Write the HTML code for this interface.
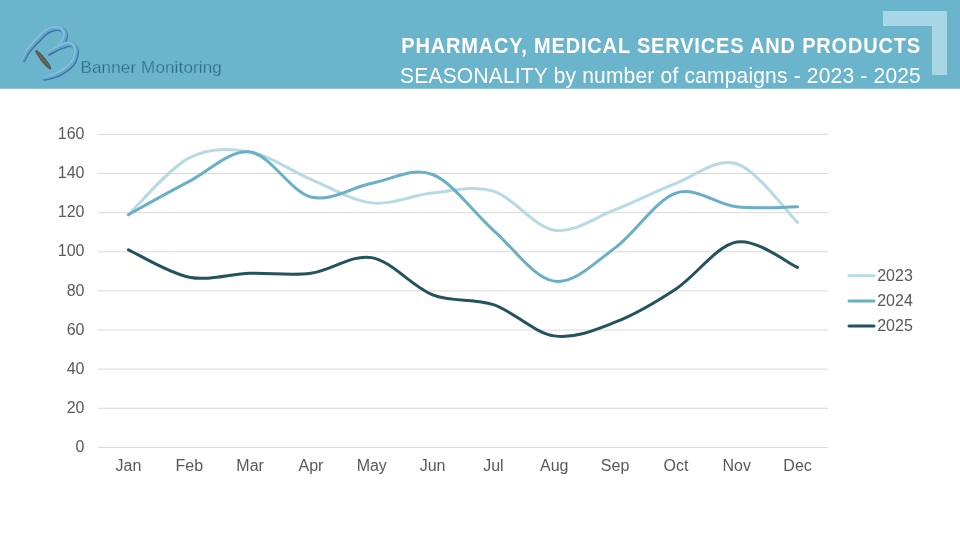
<!DOCTYPE html>
<html><head><meta charset="utf-8">
<style>
html,body{margin:0;padding:0;}
body{width:960px;height:540px;position:relative;overflow:hidden;background:#fff;font-family:"Liberation Sans",sans-serif;}
.hdr{position:absolute;left:0;top:0;width:960px;height:88px;background:#6ab4cc;}
.bracket1{position:absolute;left:883px;top:11px;width:64px;height:15px;background:#a9d6e4;}
.bracket2{position:absolute;left:932px;top:26px;width:15px;height:49px;background:#a9d6e4;}
</style></head><body>
<div class="hdr"></div><div style="position:absolute;left:0;top:88px;width:960px;height:1px;background:#8ec3d3"></div>
<div class="bracket1"></div><div class="bracket2"></div>
<svg width="960" height="540" viewBox="0 0 960 540" style="position:absolute;left:0;top:0;will-change:transform">
<style>.ax{font-family:"Liberation Sans",sans-serif;font-size:16px;fill:#595959;} .tt{font-family:"Liberation Sans",sans-serif;fill:#fff;}</style>
<text x="921" y="0" transform="translate(0 52.9) scale(1 1.07)" text-anchor="end" class="tt" style="font-weight:bold;font-size:20px;letter-spacing:0.83px">PHARMACY, MEDICAL SERVICES AND PRODUCTS</text>
<text x="921" y="0" transform="translate(0 82.9) scale(1 1.07)" text-anchor="end" class="tt" style="font-size:21px;letter-spacing:0.19px">SEASONALITY by number of campaigns - 2023 - 2025</text>
<text x="80.5" y="73" style="font-family:Liberation Sans,sans-serif;font-size:17px;letter-spacing:0.15px;fill:#2b6b89;stroke:#6ab4cc;stroke-width:0.3">Banner Monitoring</text>
<line x1="98" x2="828" y1="447.40" y2="447.40" stroke="#d9d9d9" stroke-width="1"/>
<text x="84.5" y="452.00" text-anchor="end" class="ax">0</text>
<line x1="98" x2="828" y1="408.27" y2="408.27" stroke="#d9d9d9" stroke-width="1"/>
<text x="84.5" y="412.88" text-anchor="end" class="ax">20</text>
<line x1="98" x2="828" y1="369.15" y2="369.15" stroke="#d9d9d9" stroke-width="1"/>
<text x="84.5" y="373.75" text-anchor="end" class="ax">40</text>
<line x1="98" x2="828" y1="330.02" y2="330.02" stroke="#d9d9d9" stroke-width="1"/>
<text x="84.5" y="334.62" text-anchor="end" class="ax">60</text>
<line x1="98" x2="828" y1="290.90" y2="290.90" stroke="#d9d9d9" stroke-width="1"/>
<text x="84.5" y="295.50" text-anchor="end" class="ax">80</text>
<line x1="98" x2="828" y1="251.77" y2="251.77" stroke="#d9d9d9" stroke-width="1"/>
<text x="84.5" y="256.38" text-anchor="end" class="ax">100</text>
<line x1="98" x2="828" y1="212.65" y2="212.65" stroke="#d9d9d9" stroke-width="1"/>
<text x="84.5" y="217.25" text-anchor="end" class="ax">120</text>
<line x1="98" x2="828" y1="173.52" y2="173.52" stroke="#d9d9d9" stroke-width="1"/>
<text x="84.5" y="178.12" text-anchor="end" class="ax">140</text>
<line x1="98" x2="828" y1="134.40" y2="134.40" stroke="#d9d9d9" stroke-width="1"/>
<text x="84.5" y="139.00" text-anchor="end" class="ax">160</text>
<text x="128.42" y="471" text-anchor="middle" class="ax">Jan</text>
<text x="189.25" y="471" text-anchor="middle" class="ax">Feb</text>
<text x="250.08" y="471" text-anchor="middle" class="ax">Mar</text>
<text x="310.92" y="471" text-anchor="middle" class="ax">Apr</text>
<text x="371.75" y="471" text-anchor="middle" class="ax">May</text>
<text x="432.58" y="471" text-anchor="middle" class="ax">Jun</text>
<text x="493.42" y="471" text-anchor="middle" class="ax">Jul</text>
<text x="554.25" y="471" text-anchor="middle" class="ax">Aug</text>
<text x="615.08" y="471" text-anchor="middle" class="ax">Sep</text>
<text x="675.92" y="471" text-anchor="middle" class="ax">Oct</text>
<text x="736.75" y="471" text-anchor="middle" class="ax">Nov</text>
<text x="797.58" y="471" text-anchor="middle" class="ax">Dec</text>
<path d="M128.42 214.61 C138.56 205.15 168.97 168.31 189.25 157.87 C209.53 147.44 229.81 148.42 250.08 152.01 C270.36 155.59 290.64 170.92 310.92 179.39 C331.19 187.87 351.47 200.59 371.75 202.87 C392.03 205.15 412.31 195.04 432.58 193.09 C452.86 191.13 473.14 184.94 493.42 191.13 C513.69 197.33 533.97 227.16 554.25 230.26 C574.53 233.35 594.81 217.54 615.08 209.72 C635.36 201.89 655.64 190.97 675.92 183.31 C696.19 175.64 716.47 157.22 736.75 163.74 C757.03 170.26 787.44 212.65 797.58 222.43" fill="none" stroke="#b8dae3" stroke-width="3" stroke-linecap="round" stroke-linejoin="round"/>
<path d="M128.42 214.61 C138.56 209.06 168.97 191.78 189.25 181.35 C209.53 170.92 229.81 149.40 250.08 152.01 C270.36 154.61 290.64 191.78 310.92 197.00 C331.19 202.22 351.47 187.06 371.75 183.31 C392.03 179.56 412.31 166.68 432.58 174.50 C452.86 182.33 473.14 212.49 493.42 230.26 C513.69 248.03 533.97 278.18 554.25 281.12 C574.53 284.05 594.81 262.53 615.08 247.86 C635.36 233.19 655.64 199.93 675.92 193.09 C696.19 186.24 716.47 204.50 736.75 206.78 C757.03 209.06 787.44 206.78 797.58 206.78" fill="none" stroke="#69afc6" stroke-width="3" stroke-linecap="round" stroke-linejoin="round"/>
<path d="M128.42 249.82 C138.56 254.38 168.97 273.29 189.25 277.21 C209.53 281.12 229.81 273.95 250.08 273.29 C270.36 272.64 290.64 275.90 310.92 273.29 C331.19 270.69 351.47 254.06 371.75 257.64 C392.03 261.23 412.31 286.99 432.58 294.81 C452.86 302.64 473.14 297.75 493.42 304.59 C513.69 311.44 533.97 332.96 554.25 335.89 C574.53 338.83 594.81 330.02 615.08 322.20 C635.36 314.38 655.64 302.31 675.92 288.94 C696.19 275.58 716.47 245.58 736.75 241.99 C757.03 238.41 787.44 263.19 797.58 267.42" fill="none" stroke="#24525e" stroke-width="3" stroke-linecap="round" stroke-linejoin="round"/>
<line x1="849" x2="874" y1="275.70" y2="275.70" stroke="#b8dae3" stroke-width="3" stroke-linecap="round"/>
<text x="877.2" y="280.80" class="ax">2023</text>
<line x1="849" x2="874" y1="300.90" y2="300.90" stroke="#69afc6" stroke-width="3" stroke-linecap="round"/>
<text x="877.2" y="306.00" class="ax">2024</text>
<line x1="849" x2="874" y1="326.10" y2="326.10" stroke="#24525e" stroke-width="3" stroke-linecap="round"/>
<text x="877.2" y="331.20" class="ax">2025</text>
<path d="M24.93 61.85 L25.15 61.44 L25.41 60.93 L25.72 60.33 L26.06 59.66 L26.43 58.94 L26.83 58.18 L27.24 57.40 L27.66 56.62 L28.09 55.85 L28.51 55.12 L28.92 54.45 L29.32 53.84 L29.71 53.28 L30.12 52.72 L30.53 52.18 L30.95 51.64 L31.38 51.11 L31.82 50.59 L32.26 50.07 L32.71 49.55 L33.17 49.03 L33.63 48.51 L34.10 47.99 L34.58 47.46 L35.05 46.94 L35.53 46.43 L36.01 45.92 L36.51 45.40 L37.01 44.89 L37.52 44.37 L38.04 43.85 L38.55 43.33 L39.07 42.81 L39.58 42.28 L40.10 41.76 L40.61 41.23 L41.12 40.69 L41.63 40.15 L42.13 39.61 L42.63 39.08 L43.12 38.56 L43.60 38.04 L44.08 37.55 L44.55 37.08 L45.02 36.63 L45.47 36.21 L45.92 35.82 L46.36 35.46 L46.80 35.11 L47.25 34.78 L47.70 34.47 L48.15 34.17 L48.60 33.89 L49.05 33.63 L49.49 33.38 L49.94 33.14 L50.39 32.92 L50.84 32.71 L51.29 32.50 L51.74 32.31 L52.20 32.14 L52.65 31.97 L53.09 31.82 L53.54 31.68 L53.98 31.55 L54.42 31.44 L54.85 31.34 L55.27 31.26 L55.68 31.19 L56.08 31.15 L56.47 31.11 L56.85 31.10 L57.25 31.10 L57.66 31.11 L58.07 31.14 L58.47 31.18 L58.87 31.23 L59.25 31.30 L59.62 31.38 L59.95 31.47 L60.26 31.58 L60.53 31.68 L60.76 31.79 L60.96 31.91 L61.14 32.04 L61.34 32.20 L61.54 32.38 L61.72 32.58 L61.91 32.79 L62.08 33.02 L62.23 33.27 L62.38 33.52 L62.50 33.77 L62.61 34.03 L62.69 34.29 L62.76 34.55 L62.81 34.82 L62.85 35.13 L62.87 35.47 L62.88 35.84 L62.86 36.23 L62.83 36.63 L62.78 37.05 L62.72 37.47 L62.63 37.90 L62.53 38.32 L62.42 38.74 L62.29 39.15 L62.14 39.56 L61.97 39.98 L61.78 40.42 L61.56 40.87 L61.32 41.33 L61.06 41.79 L60.78 42.26 L60.48 42.73 L60.17 43.19 L59.85 43.65 L59.52 44.11 L59.18 44.55 L58.84 44.98 L58.47 45.40 L58.08 45.83 L57.66 46.26 L57.22 46.70 L56.77 47.13 L56.30 47.57 L55.82 48.00 L55.33 48.43 L54.84 48.86 L54.35 49.28 L53.87 49.69 L53.38 50.11 L52.86 50.53 L52.30 50.97 L51.72 51.41 L51.14 51.84 L50.55 52.27 L49.99 52.68 L49.46 53.06 L48.96 53.41 L48.52 53.73 L48.14 54.01 L47.84 54.23 L48.76 55.77 L49.09 55.61 L49.51 55.42 L50.00 55.20 L50.55 54.94 L51.15 54.66 L51.80 54.36 L52.46 54.04 L53.14 53.71 L53.82 53.36 L54.48 53.01 L55.13 52.66 L55.73 52.31 L56.30 51.96 L56.87 51.62 L57.44 51.26 L58.02 50.89 L58.60 50.51 L59.17 50.12 L59.74 49.71 L60.31 49.29 L60.86 48.86 L61.40 48.40 L61.92 47.93 L62.42 47.45 L62.89 46.96 L63.34 46.46 L63.79 45.95 L64.21 45.42 L64.63 44.88 L65.02 44.33 L65.39 43.77 L65.75 43.20 L66.08 42.63 L66.38 42.04 L66.66 41.45 L66.91 40.85 L67.13 40.24 L67.32 39.63 L67.48 39.02 L67.62 38.39 L67.72 37.77 L67.80 37.14 L67.86 36.52 L67.88 35.89 L67.87 35.28 L67.83 34.66 L67.75 34.05 L67.64 33.45 L67.48 32.86 L67.29 32.29 L67.06 31.73 L66.80 31.19 L66.51 30.68 L66.19 30.18 L65.83 29.70 L65.45 29.25 L65.04 28.82 L64.61 28.41 L64.14 28.04 L63.64 27.69 L63.11 27.38 L62.55 27.11 L61.98 26.88 L61.40 26.69 L60.82 26.53 L60.23 26.40 L59.65 26.29 L59.06 26.21 L58.48 26.16 L57.90 26.12 L57.32 26.10 L56.75 26.10 L56.17 26.12 L55.58 26.17 L54.99 26.24 L54.41 26.33 L53.82 26.45 L53.25 26.58 L52.67 26.72 L52.10 26.89 L51.53 27.07 L50.97 27.26 L50.41 27.47 L49.86 27.69 L49.31 27.92 L48.76 28.16 L48.21 28.42 L47.66 28.70 L47.11 28.99 L46.55 29.30 L46.00 29.62 L45.45 29.97 L44.90 30.33 L44.35 30.71 L43.80 31.12 L43.24 31.54 L42.68 32.01 L42.13 32.49 L41.58 33.00 L41.05 33.52 L40.52 34.04 L40.00 34.58 L39.48 35.12 L38.97 35.66 L38.47 36.20 L37.97 36.73 L37.48 37.26 L36.99 37.77 L36.50 38.29 L35.99 38.81 L35.48 39.35 L34.97 39.89 L34.46 40.44 L33.95 41.01 L33.44 41.58 L32.94 42.15 L32.45 42.74 L31.96 43.33 L31.48 43.94 L31.02 44.54 L30.58 45.14 L30.15 45.73 L29.73 46.33 L29.31 46.93 L28.90 47.54 L28.50 48.16 L28.10 48.79 L27.71 49.43 L27.34 50.09 L26.97 50.76 L26.62 51.45 L26.28 52.16 L25.94 52.92 L25.62 53.73 L25.30 54.59 L25.00 55.46 L24.72 56.33 L24.45 57.20 L24.19 58.03 L23.96 58.82 L23.75 59.55 L23.56 60.19 L23.40 60.73 L23.27 61.15Z" fill="#3a739c"/>
<path d="M24.13 60.85 L24.34 60.44 L24.61 59.93 L24.91 59.33 L25.25 58.65 L25.62 57.93 L26.01 57.17 L26.41 56.39 L26.83 55.60 L27.25 54.84 L27.67 54.10 L28.08 53.43 L28.47 52.82 L28.87 52.25 L29.27 51.69 L29.68 51.14 L30.10 50.60 L30.52 50.07 L30.96 49.55 L31.40 49.03 L31.85 48.51 L32.30 47.98 L32.77 47.46 L33.24 46.93 L33.71 46.40 L34.18 45.88 L34.66 45.37 L35.14 44.86 L35.64 44.34 L36.14 43.82 L36.65 43.30 L37.17 42.78 L37.68 42.26 L38.20 41.74 L38.71 41.21 L39.22 40.69 L39.73 40.16 L40.24 39.62 L40.75 39.08 L41.25 38.54 L41.75 38.01 L42.24 37.49 L42.73 36.98 L43.21 36.48 L43.68 36.01 L44.15 35.56 L44.61 35.13 L45.05 34.74 L45.50 34.38 L45.94 34.03 L46.39 33.70 L46.85 33.39 L47.30 33.09 L47.75 32.81 L48.20 32.54 L48.65 32.29 L49.10 32.05 L49.55 31.83 L50.00 31.61 L50.45 31.41 L50.91 31.22 L51.36 31.04 L51.81 30.88 L52.26 30.72 L52.71 30.58 L53.15 30.45 L53.59 30.34 L54.03 30.24 L54.45 30.16 L54.87 30.10 L55.27 30.05 L55.66 30.01 L56.05 30.00 L56.45 30.00 L56.86 30.01 L57.27 30.04 L57.68 30.08 L58.09 30.13 L58.47 30.20 L58.84 30.29 L59.18 30.38 L59.50 30.48 L59.77 30.59 L60.01 30.71 L60.21 30.82 L60.40 30.96 L60.61 31.12 L60.81 31.31 L61.00 31.51 L61.18 31.73 L61.36 31.97 L61.52 32.21 L61.66 32.47 L61.79 32.73 L61.90 33.00 L61.99 33.26 L62.06 33.53 L62.11 33.81 L62.15 34.12 L62.17 34.47 L62.18 34.84 L62.16 35.23 L62.13 35.64 L62.08 36.06 L62.02 36.49 L61.93 36.92 L61.83 37.35 L61.71 37.77 L61.58 38.19 L61.43 38.60 L61.26 39.02 L61.06 39.46 L60.84 39.92 L60.60 40.38 L60.33 40.84 L60.05 41.31 L59.75 41.78 L59.44 42.24 L59.12 42.71 L58.78 43.16 L58.44 43.60 L58.09 44.03 L57.72 44.45 L57.32 44.88 L56.90 45.32 L56.46 45.75 L56.01 46.18 L55.53 46.61 L55.05 47.04 L54.57 47.47 L54.07 47.90 L53.58 48.32 L53.10 48.73 L52.61 49.14 L52.08 49.56 L51.52 49.99 L50.94 50.43 L50.35 50.86 L49.76 51.28 L49.20 51.69 L48.66 52.07 L48.17 52.42 L47.72 52.74 L47.34 53.01 L47.04 53.23 L47.96 54.77 L48.29 54.61 L48.70 54.42 L49.19 54.19 L49.75 53.93 L50.35 53.65 L50.99 53.34 L51.65 53.02 L52.32 52.68 L53.00 52.33 L53.66 51.98 L54.30 51.62 L54.90 51.27 L55.47 50.92 L56.04 50.58 L56.61 50.22 L57.18 49.85 L57.76 49.46 L58.33 49.07 L58.90 48.66 L59.46 48.24 L60.01 47.80 L60.54 47.35 L61.06 46.88 L61.56 46.40 L62.03 45.91 L62.48 45.41 L62.92 44.90 L63.34 44.37 L63.75 43.83 L64.14 43.28 L64.51 42.72 L64.86 42.16 L65.19 41.58 L65.49 41.00 L65.77 40.41 L66.02 39.81 L66.23 39.22 L66.42 38.61 L66.58 37.99 L66.72 37.38 L66.83 36.75 L66.91 36.13 L66.96 35.51 L66.98 34.89 L66.97 34.28 L66.93 33.67 L66.85 33.07 L66.74 32.47 L66.59 31.89 L66.40 31.32 L66.17 30.77 L65.91 30.24 L65.62 29.73 L65.30 29.23 L64.96 28.76 L64.58 28.31 L64.17 27.89 L63.74 27.49 L63.28 27.12 L62.79 26.78 L62.26 26.47 L61.71 26.20 L61.14 25.97 L60.57 25.78 L60.00 25.63 L59.41 25.50 L58.83 25.39 L58.25 25.31 L57.67 25.25 L57.09 25.22 L56.52 25.20 L55.95 25.20 L55.37 25.22 L54.79 25.27 L54.21 25.34 L53.62 25.43 L53.05 25.54 L52.47 25.67 L51.90 25.82 L51.33 25.98 L50.76 26.16 L50.20 26.35 L49.64 26.56 L49.09 26.78 L48.55 27.01 L48.00 27.25 L47.45 27.51 L46.90 27.78 L46.35 28.07 L45.80 28.38 L45.25 28.71 L44.70 29.05 L44.15 29.41 L43.61 29.79 L43.06 30.20 L42.50 30.62 L41.95 31.08 L41.39 31.57 L40.85 32.07 L40.32 32.59 L39.79 33.11 L39.27 33.65 L38.76 34.19 L38.25 34.73 L37.75 35.27 L37.25 35.80 L36.76 36.33 L36.27 36.84 L35.77 37.36 L35.27 37.88 L34.76 38.42 L34.25 38.96 L33.73 39.51 L33.22 40.07 L32.71 40.64 L32.21 41.22 L31.72 41.80 L31.23 42.39 L30.75 42.99 L30.29 43.60 L29.85 44.19 L29.42 44.78 L28.99 45.38 L28.57 45.98 L28.16 46.58 L27.75 47.20 L27.36 47.83 L26.97 48.47 L26.59 49.12 L26.22 49.79 L25.87 50.47 L25.53 51.18 L25.19 51.94 L24.86 52.75 L24.54 53.60 L24.24 54.47 L23.94 55.35 L23.67 56.21 L23.41 57.04 L23.17 57.83 L22.96 58.55 L22.77 59.19 L22.61 59.73 L22.47 60.15Z" fill="#62a5cd"/>
<path d="M22.88 59.82 L23.07 59.41 L23.31 58.89 L23.59 58.28 L23.90 57.59 L24.23 56.85 L24.59 56.08 L24.97 55.27 L25.36 54.47 L25.76 53.67 L26.15 52.91 L26.55 52.20 L26.93 51.55 L27.31 50.94 L27.71 50.35 L28.11 49.77 L28.52 49.20 L28.94 48.65 L29.37 48.09 L29.80 47.55 L30.24 47.01 L30.69 46.46 L31.15 45.92 L31.61 45.38 L32.07 44.83 L32.54 44.29 L33.02 43.76 L33.51 43.22 L34.01 42.69 L34.51 42.16 L35.02 41.63 L35.53 41.10 L36.05 40.57 L36.56 40.04 L37.08 39.51 L37.59 38.99 L38.09 38.46 L38.60 37.93 L39.10 37.39 L39.60 36.86 L40.10 36.32 L40.60 35.79 L41.09 35.27 L41.58 34.77 L42.07 34.28 L42.56 33.81 L43.04 33.37 L43.51 32.95 L43.99 32.56 L44.46 32.19 L44.94 31.84 L45.42 31.51 L45.89 31.20 L46.37 30.90 L46.85 30.62 L47.33 30.35 L47.80 30.10 L48.28 29.86 L48.76 29.63 L49.24 29.42 L49.72 29.22 L50.19 29.03 L50.68 28.85 L51.16 28.69 L51.64 28.53 L52.11 28.40 L52.59 28.28 L53.06 28.17 L53.53 28.08 L53.99 28.01 L54.44 27.95 L54.88 27.92 L55.32 27.90 L55.77 27.90 L56.22 27.91 L56.68 27.94 L57.14 27.99 L57.59 28.05 L58.03 28.13 L58.45 28.22 L58.86 28.33 L59.24 28.46 L59.60 28.60 L59.92 28.76 L60.21 28.93 L60.48 29.12 L60.76 29.34 L61.02 29.58 L61.27 29.84 L61.51 30.13 L61.73 30.43 L61.93 30.74 L62.11 31.07 L62.28 31.40 L62.42 31.75 L62.54 32.09 L62.63 32.44 L62.70 32.81 L62.74 33.20 L62.77 33.62 L62.78 34.05 L62.76 34.51 L62.72 34.98 L62.67 35.45 L62.59 35.93 L62.49 36.41 L62.37 36.89 L62.24 37.36 L62.09 37.83 L61.91 38.29 L61.71 38.76 L61.49 39.24 L61.24 39.73 L60.96 40.22 L60.67 40.71 L60.36 41.20 L60.04 41.69 L59.70 42.17 L59.34 42.65 L58.98 43.12 L58.60 43.57 L58.22 44.02 L57.81 44.46 L57.37 44.90 L56.92 45.33 L56.45 45.77 L55.96 46.19 L55.46 46.62 L54.96 47.04 L54.45 47.46 L53.94 47.87 L53.43 48.27 L52.92 48.67 L52.40 49.07 L51.85 49.48 L51.26 49.89 L50.65 50.31 L50.04 50.72 L49.44 51.12 L48.86 51.50 L48.31 51.86 L47.80 52.19 L47.34 52.48 L46.95 52.74 L46.65 52.94 L46.95 53.46 L47.28 53.28 L47.68 53.07 L48.16 52.82 L48.70 52.54 L49.29 52.23 L49.91 51.91 L50.55 51.56 L51.21 51.20 L51.86 50.84 L52.49 50.47 L53.11 50.10 L53.68 49.73 L54.22 49.37 L54.77 49.01 L55.32 48.63 L55.88 48.25 L56.43 47.86 L56.98 47.46 L57.52 47.04 L58.04 46.62 L58.56 46.19 L59.06 45.75 L59.54 45.29 L60.00 44.83 L60.43 44.35 L60.85 43.87 L61.26 43.37 L61.66 42.86 L62.04 42.34 L62.40 41.82 L62.75 41.28 L63.07 40.75 L63.37 40.21 L63.64 39.66 L63.89 39.12 L64.11 38.57 L64.31 38.02 L64.48 37.47 L64.62 36.90 L64.74 36.34 L64.84 35.77 L64.91 35.20 L64.96 34.64 L64.98 34.08 L64.97 33.53 L64.93 32.99 L64.87 32.47 L64.77 31.96 L64.64 31.46 L64.48 30.98 L64.29 30.50 L64.06 30.04 L63.81 29.60 L63.54 29.17 L63.23 28.77 L62.91 28.38 L62.56 28.01 L62.19 27.67 L61.80 27.36 L61.39 27.07 L60.95 26.82 L60.48 26.59 L60.00 26.39 L59.50 26.23 L58.98 26.09 L58.46 25.97 L57.93 25.88 L57.40 25.80 L56.86 25.75 L56.33 25.72 L55.80 25.70 L55.28 25.70 L54.75 25.72 L54.22 25.76 L53.68 25.83 L53.15 25.91 L52.61 26.02 L52.07 26.14 L51.54 26.27 L51.00 26.43 L50.47 26.60 L49.94 26.78 L49.41 26.97 L48.88 27.18 L48.36 27.40 L47.84 27.63 L47.32 27.88 L46.80 28.14 L46.27 28.42 L45.75 28.71 L45.23 29.02 L44.71 29.34 L44.18 29.69 L43.66 30.05 L43.14 30.44 L42.61 30.84 L42.09 31.27 L41.56 31.73 L41.04 32.21 L40.53 32.71 L40.02 33.23 L39.51 33.75 L39.00 34.28 L38.50 34.82 L38.00 35.36 L37.50 35.89 L37.00 36.42 L36.51 36.94 L36.01 37.46 L35.50 37.99 L34.99 38.52 L34.48 39.06 L33.96 39.60 L33.45 40.15 L32.95 40.71 L32.44 41.27 L31.95 41.83 L31.46 42.41 L30.99 42.98 L30.53 43.57 L30.08 44.14 L29.64 44.72 L29.21 45.30 L28.78 45.88 L28.36 46.46 L27.95 47.06 L27.54 47.66 L27.15 48.27 L26.76 48.89 L26.39 49.53 L26.02 50.18 L25.67 50.85 L25.32 51.57 L24.98 52.35 L24.64 53.16 L24.31 54.01 L23.99 54.86 L23.68 55.70 L23.39 56.52 L23.13 57.29 L22.88 58.00 L22.66 58.63 L22.48 59.16 L22.32 59.58Z" fill="#8ec4e0" opacity="0.8"/>
<path d="M48.80 55.75 L49.20 55.54 L49.70 55.28 L50.29 54.97 L50.94 54.63 L51.65 54.25 L52.39 53.86 L53.16 53.46 L53.94 53.06 L54.70 52.67 L55.44 52.30 L56.14 51.96 L56.78 51.65 L57.39 51.37 L58.00 51.10 L58.61 50.83 L59.21 50.57 L59.81 50.32 L60.40 50.07 L60.98 49.83 L61.55 49.60 L62.11 49.38 L62.67 49.16 L63.21 48.95 L63.74 48.75 L64.28 48.54 L64.81 48.34 L65.33 48.14 L65.82 47.95 L66.29 47.78 L66.74 47.62 L67.18 47.47 L67.58 47.35 L67.97 47.25 L68.32 47.18 L68.65 47.12 L68.97 47.09 L69.31 47.08 L69.67 47.08 L70.01 47.09 L70.35 47.12 L70.67 47.17 L70.98 47.23 L71.26 47.30 L71.52 47.38 L71.75 47.47 L71.95 47.57 L72.12 47.67 L72.26 47.77 L72.40 47.89 L72.55 48.05 L72.72 48.24 L72.88 48.46 L73.04 48.71 L73.19 48.98 L73.34 49.28 L73.47 49.59 L73.59 49.91 L73.69 50.24 L73.77 50.57 L73.83 50.89 L73.87 51.21 L73.89 51.57 L73.90 51.97 L73.89 52.40 L73.85 52.85 L73.80 53.33 L73.73 53.82 L73.65 54.32 L73.55 54.83 L73.44 55.34 L73.32 55.85 L73.18 56.36 L73.04 56.88 L72.90 57.40 L72.75 57.91 L72.60 58.40 L72.44 58.87 L72.27 59.34 L72.08 59.79 L71.87 60.24 L71.65 60.68 L71.40 61.12 L71.12 61.56 L70.80 62.00 L70.43 62.47 L70.03 62.95 L69.58 63.44 L69.11 63.94 L68.60 64.45 L68.06 64.96 L67.49 65.47 L66.90 65.97 L66.28 66.48 L65.65 66.99 L65.00 67.48 L64.33 67.98 L63.65 68.47 L62.94 68.96 L62.21 69.46 L61.47 69.96 L60.70 70.47 L59.92 70.97 L59.13 71.47 L58.32 71.96 L57.50 72.46 L56.66 72.94 L55.81 73.42 L54.96 73.88 L54.05 74.35 L53.04 74.83 L51.95 75.33 L50.81 75.84 L49.64 76.35 L48.48 76.84 L47.34 77.32 L46.27 77.77 L45.27 78.19 L44.38 78.56 L43.62 78.88 L43.02 79.14 L43.58 80.86 L44.20 80.72 L45.00 80.56 L45.94 80.38 L47.00 80.17 L48.15 79.94 L49.37 79.68 L50.63 79.40 L51.90 79.11 L53.17 78.79 L54.39 78.45 L55.56 78.09 L56.64 77.72 L57.65 77.33 L58.63 76.93 L59.59 76.50 L60.54 76.06 L61.46 75.60 L62.36 75.12 L63.24 74.63 L64.10 74.12 L64.93 73.61 L65.73 73.09 L66.51 72.56 L67.27 72.02 L68.00 71.48 L68.73 70.93 L69.43 70.37 L70.12 69.80 L70.79 69.22 L71.44 68.63 L72.07 68.04 L72.67 67.44 L73.25 66.84 L73.79 66.24 L74.31 65.62 L74.80 65.00 L75.26 64.36 L75.67 63.71 L76.04 63.07 L76.37 62.43 L76.66 61.79 L76.92 61.16 L77.15 60.54 L77.36 59.94 L77.54 59.34 L77.71 58.77 L77.86 58.20 L78.02 57.64 L78.17 57.06 L78.31 56.45 L78.45 55.84 L78.57 55.21 L78.67 54.58 L78.76 53.95 L78.83 53.31 L78.88 52.67 L78.90 52.03 L78.89 51.38 L78.85 50.74 L78.77 50.11 L78.65 49.50 L78.51 48.91 L78.33 48.32 L78.12 47.75 L77.88 47.20 L77.62 46.65 L77.32 46.13 L76.99 45.62 L76.64 45.14 L76.24 44.67 L75.81 44.24 L75.34 43.83 L74.83 43.47 L74.30 43.16 L73.75 42.89 L73.19 42.67 L72.63 42.49 L72.06 42.35 L71.49 42.24 L70.92 42.16 L70.34 42.11 L69.77 42.08 L69.21 42.08 L68.63 42.11 L68.02 42.16 L67.41 42.26 L66.82 42.39 L66.24 42.54 L65.67 42.71 L65.11 42.89 L64.55 43.10 L64.00 43.31 L63.46 43.54 L62.93 43.77 L62.39 44.01 L61.86 44.25 L61.30 44.51 L60.73 44.79 L60.15 45.08 L59.57 45.38 L58.98 45.71 L58.39 46.04 L57.80 46.39 L57.20 46.75 L56.61 47.13 L56.01 47.52 L55.42 47.93 L54.82 48.35 L54.20 48.81 L53.54 49.31 L52.87 49.86 L52.18 50.42 L51.50 51.00 L50.83 51.57 L50.19 52.14 L49.59 52.67 L49.03 53.16 L48.54 53.60 L48.13 53.97 L47.80 54.25Z" fill="#3a739c"/>
<path d="M48.00 54.75 L48.40 54.54 L48.90 54.27 L49.48 53.96 L50.13 53.61 L50.83 53.23 L51.58 52.84 L52.34 52.43 L53.11 52.02 L53.88 51.63 L54.61 51.25 L55.31 50.90 L55.94 50.60 L56.55 50.32 L57.17 50.04 L57.77 49.77 L58.37 49.50 L58.97 49.25 L59.56 49.00 L60.14 48.75 L60.71 48.52 L61.27 48.29 L61.83 48.07 L62.37 47.86 L62.91 47.66 L63.44 47.45 L63.98 47.25 L64.49 47.05 L64.98 46.86 L65.46 46.68 L65.91 46.52 L66.35 46.38 L66.76 46.26 L67.14 46.16 L67.51 46.08 L67.84 46.03 L68.17 45.99 L68.51 45.98 L68.87 45.98 L69.22 45.99 L69.56 46.03 L69.89 46.07 L70.20 46.13 L70.49 46.20 L70.75 46.29 L70.99 46.38 L71.19 46.48 L71.37 46.58 L71.52 46.69 L71.67 46.82 L71.83 46.98 L71.99 47.18 L72.16 47.40 L72.33 47.66 L72.48 47.94 L72.63 48.24 L72.76 48.55 L72.88 48.88 L72.98 49.21 L73.07 49.55 L73.13 49.87 L73.17 50.21 L73.19 50.57 L73.20 50.97 L73.18 51.41 L73.15 51.86 L73.10 52.34 L73.03 52.84 L72.95 53.34 L72.85 53.85 L72.74 54.36 L72.61 54.87 L72.48 55.39 L72.34 55.91 L72.19 56.43 L72.05 56.93 L71.89 57.43 L71.73 57.91 L71.56 58.38 L71.37 58.83 L71.16 59.28 L70.94 59.73 L70.68 60.17 L70.40 60.61 L70.08 61.06 L69.71 61.53 L69.30 62.01 L68.86 62.51 L68.38 63.01 L67.86 63.52 L67.32 64.03 L66.76 64.54 L66.16 65.05 L65.55 65.56 L64.91 66.06 L64.26 66.56 L63.59 67.06 L62.90 67.55 L62.19 68.05 L61.46 68.55 L60.72 69.05 L59.95 69.55 L59.17 70.05 L58.38 70.55 L57.56 71.04 L56.74 71.53 L55.90 72.01 L55.05 72.49 L54.19 72.95 L53.28 73.41 L52.26 73.89 L51.17 74.39 L50.02 74.89 L48.85 75.39 L47.69 75.88 L46.55 76.35 L45.47 76.79 L44.48 77.20 L43.58 77.57 L42.82 77.89 L42.22 78.14 L42.78 79.86 L43.40 79.72 L44.19 79.56 L45.13 79.36 L46.19 79.15 L47.34 78.91 L48.56 78.65 L49.82 78.36 L51.09 78.06 L52.35 77.73 L53.57 77.39 L54.74 77.03 L55.81 76.65 L56.82 76.26 L57.79 75.85 L58.75 75.43 L59.69 74.98 L60.62 74.52 L61.51 74.04 L62.39 73.55 L63.25 73.04 L64.07 72.53 L64.88 72.01 L65.66 71.48 L66.41 70.94 L67.14 70.40 L67.86 69.85 L68.57 69.29 L69.26 68.72 L69.93 68.14 L70.58 67.56 L71.20 66.97 L71.80 66.37 L72.37 65.77 L72.92 65.17 L73.43 64.56 L73.92 63.94 L74.37 63.30 L74.79 62.66 L75.15 62.02 L75.48 61.38 L75.77 60.75 L76.03 60.12 L76.26 59.51 L76.46 58.91 L76.64 58.32 L76.81 57.74 L76.97 57.18 L77.12 56.61 L77.27 56.03 L77.42 55.43 L77.55 54.82 L77.67 54.19 L77.77 53.57 L77.86 52.93 L77.93 52.30 L77.98 51.66 L78.00 51.02 L77.99 50.39 L77.95 49.75 L77.87 49.13 L77.76 48.52 L77.61 47.93 L77.43 47.36 L77.23 46.79 L76.99 46.24 L76.73 45.70 L76.44 45.18 L76.11 44.68 L75.76 44.20 L75.37 43.74 L74.95 43.31 L74.48 42.91 L73.98 42.55 L73.45 42.24 L72.91 41.98 L72.36 41.76 L71.80 41.59 L71.24 41.44 L70.67 41.34 L70.11 41.26 L69.54 41.21 L68.97 41.18 L68.41 41.18 L67.83 41.21 L67.23 41.26 L66.63 41.36 L66.04 41.48 L65.47 41.63 L64.90 41.80 L64.34 41.99 L63.79 42.19 L63.24 42.41 L62.70 42.63 L62.16 42.86 L61.63 43.10 L61.09 43.34 L60.54 43.60 L59.97 43.87 L59.39 44.16 L58.81 44.47 L58.22 44.78 L57.63 45.12 L57.04 45.46 L56.44 45.82 L55.84 46.20 L55.25 46.59 L54.65 46.99 L54.06 47.40 L53.43 47.86 L52.77 48.36 L52.09 48.90 L51.40 49.46 L50.72 50.03 L50.05 50.60 L49.40 51.16 L48.80 51.68 L48.24 52.17 L47.75 52.60 L47.33 52.97 L47.00 53.25Z" fill="#62a5cd"/>
<path d="M46.97 53.45 L47.35 53.22 L47.83 52.94 L48.39 52.60 L49.02 52.21 L49.70 51.80 L50.42 51.37 L51.16 50.92 L51.92 50.48 L52.66 50.04 L53.39 49.62 L54.07 49.24 L54.71 48.90 L55.32 48.58 L55.93 48.27 L56.54 47.98 L57.14 47.68 L57.74 47.40 L58.33 47.13 L58.91 46.87 L59.49 46.61 L60.06 46.37 L60.62 46.13 L61.17 45.90 L61.71 45.69 L62.25 45.47 L62.78 45.26 L63.30 45.05 L63.81 44.85 L64.30 44.67 L64.79 44.50 L65.25 44.34 L65.71 44.20 L66.15 44.09 L66.57 44.00 L66.98 43.94 L67.38 43.90 L67.78 43.88 L68.20 43.88 L68.61 43.90 L69.01 43.93 L69.40 43.99 L69.78 44.06 L70.14 44.15 L70.49 44.26 L70.81 44.39 L71.11 44.53 L71.38 44.69 L71.62 44.87 L71.85 45.07 L72.09 45.30 L72.31 45.57 L72.53 45.87 L72.74 46.19 L72.93 46.53 L73.11 46.89 L73.27 47.27 L73.42 47.66 L73.54 48.06 L73.64 48.47 L73.71 48.87 L73.77 49.28 L73.79 49.72 L73.80 50.19 L73.78 50.67 L73.75 51.18 L73.69 51.70 L73.62 52.23 L73.52 52.77 L73.42 53.31 L73.30 53.85 L73.17 54.39 L73.04 54.92 L72.89 55.45 L72.75 55.98 L72.59 56.51 L72.43 57.03 L72.26 57.54 L72.07 58.05 L71.86 58.55 L71.63 59.05 L71.38 59.55 L71.09 60.05 L70.78 60.54 L70.42 61.04 L70.02 61.55 L69.58 62.07 L69.11 62.59 L68.60 63.12 L68.07 63.65 L67.50 64.18 L66.91 64.72 L66.30 65.24 L65.67 65.77 L65.01 66.29 L64.34 66.80 L63.65 67.31 L62.95 67.81 L62.22 68.32 L61.47 68.83 L60.70 69.33 L59.92 69.84 L59.11 70.34 L58.29 70.83 L57.45 71.32 L56.59 71.80 L55.72 72.27 L54.84 72.73 L53.94 73.18 L52.98 73.62 L51.93 74.08 L50.80 74.54 L49.63 75.00 L48.43 75.45 L47.25 75.90 L46.09 76.32 L44.99 76.71 L43.98 77.08 L43.08 77.40 L42.31 77.68 L41.71 77.91 L41.89 78.49 L42.51 78.32 L43.30 78.12 L44.23 77.89 L45.27 77.63 L46.41 77.34 L47.60 77.03 L48.84 76.70 L50.08 76.35 L51.31 75.98 L52.50 75.60 L53.63 75.22 L54.66 74.82 L55.63 74.42 L56.57 74.00 L57.50 73.56 L58.41 73.10 L59.30 72.63 L60.18 72.15 L61.03 71.66 L61.86 71.16 L62.67 70.65 L63.45 70.13 L64.21 69.61 L64.95 69.09 L65.66 68.56 L66.37 68.02 L67.05 67.48 L67.72 66.93 L68.37 66.37 L69.00 65.80 L69.60 65.23 L70.17 64.66 L70.72 64.09 L71.24 63.51 L71.73 62.94 L72.18 62.36 L72.60 61.78 L72.97 61.19 L73.31 60.60 L73.61 60.01 L73.88 59.43 L74.12 58.85 L74.33 58.28 L74.52 57.71 L74.70 57.14 L74.86 56.58 L75.01 56.03 L75.16 55.48 L75.31 54.92 L75.45 54.34 L75.58 53.75 L75.69 53.16 L75.79 52.57 L75.87 51.97 L75.94 51.38 L75.98 50.79 L76.00 50.21 L75.99 49.64 L75.96 49.07 L75.89 48.53 L75.79 48.00 L75.66 47.48 L75.50 46.97 L75.32 46.47 L75.11 45.98 L74.88 45.51 L74.62 45.05 L74.34 44.62 L74.04 44.20 L73.71 43.82 L73.36 43.46 L72.98 43.13 L72.57 42.84 L72.14 42.59 L71.69 42.37 L71.22 42.19 L70.75 42.04 L70.26 41.91 L69.76 41.82 L69.26 41.75 L68.75 41.70 L68.24 41.68 L67.74 41.68 L67.22 41.70 L66.70 41.75 L66.17 41.84 L65.64 41.95 L65.12 42.08 L64.59 42.24 L64.06 42.42 L63.54 42.61 L63.01 42.81 L62.48 43.03 L61.96 43.25 L61.42 43.48 L60.89 43.71 L60.34 43.96 L59.77 44.22 L59.20 44.49 L58.63 44.77 L58.05 45.07 L57.46 45.38 L56.87 45.71 L56.28 46.04 L55.68 46.39 L55.08 46.75 L54.49 47.12 L53.89 47.50 L53.26 47.92 L52.60 48.39 L51.91 48.88 L51.20 49.41 L50.50 49.94 L49.81 50.47 L49.14 50.99 L48.51 51.48 L47.93 51.94 L47.42 52.34 L46.98 52.68 L46.63 52.95Z" fill="#8ec4e0" opacity="0.8"/>
<ellipse cx="43.3" cy="59.7" rx="12.2" ry="2.4" transform="rotate(51.4 43.3 59.7)" fill="#514a46"/>
<ellipse cx="43" cy="59.3" rx="11" ry="1.5" transform="rotate(51.4 43 59.3)" fill="#6c625c"/>
</svg>
</body></html>
